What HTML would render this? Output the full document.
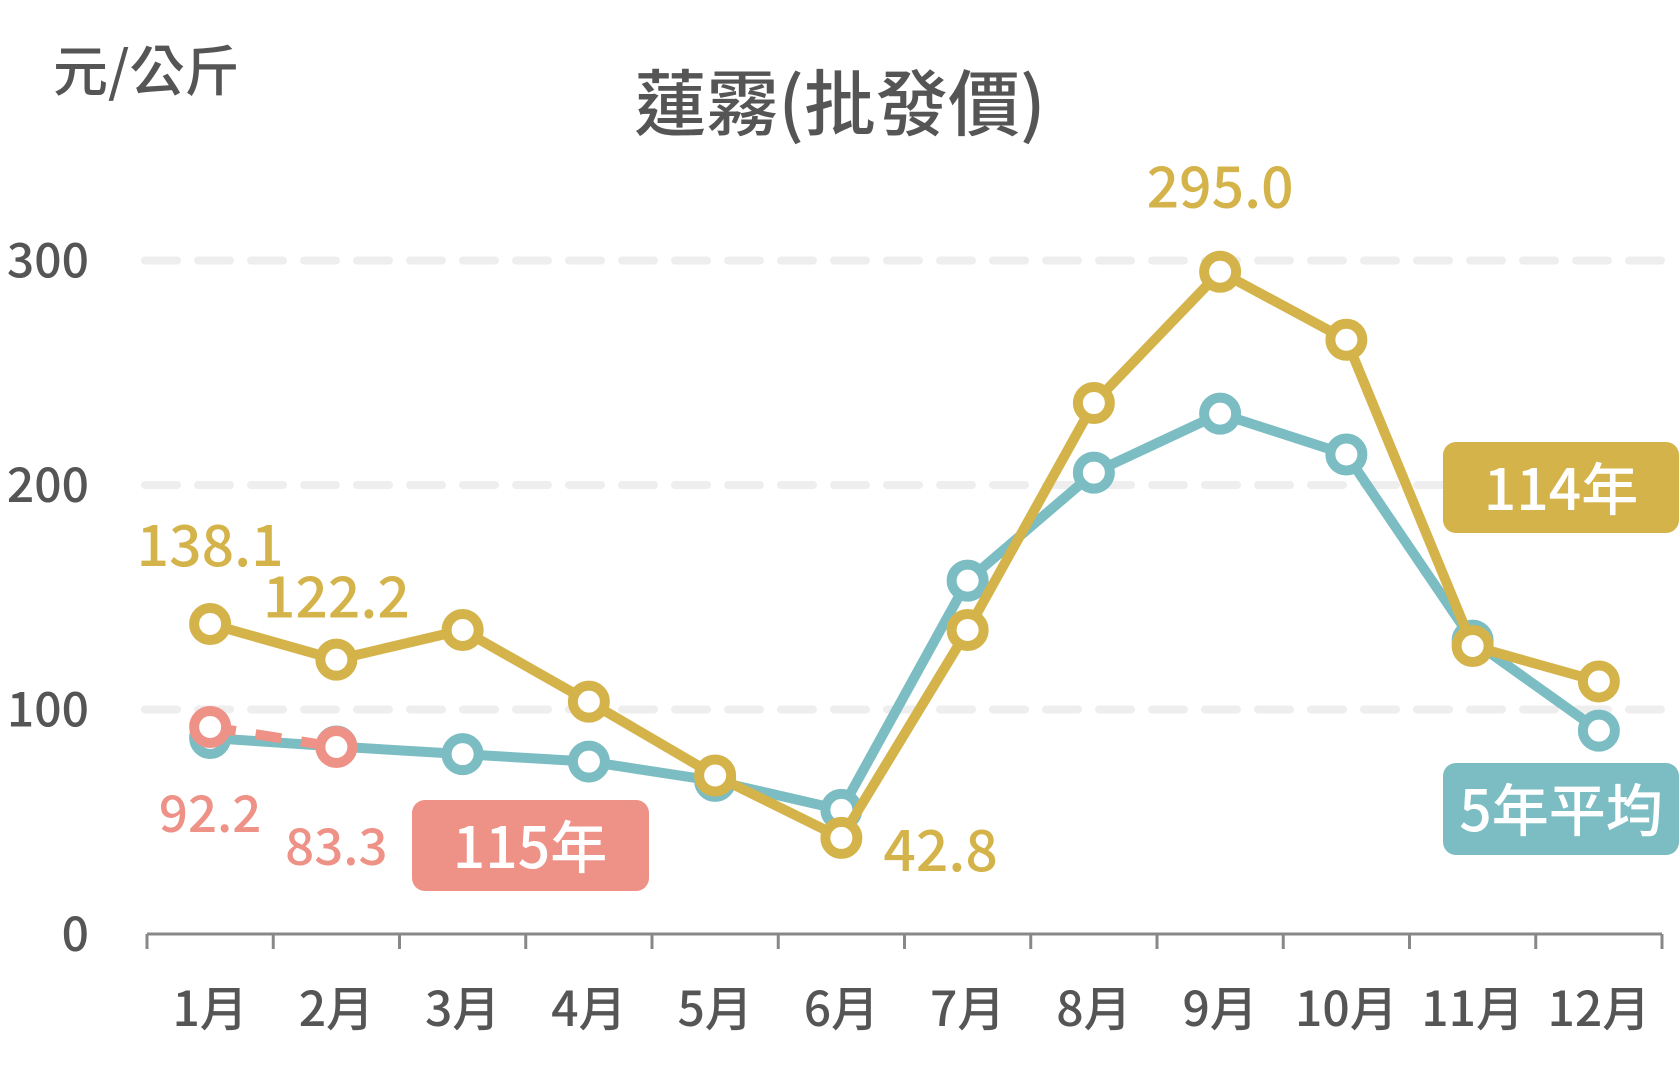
<!DOCTYPE html>
<html><head><meta charset="utf-8"><style>
body{margin:0;background:#fff}
svg text{font-family:"Noto Sans CJK TC","Liberation Sans",sans-serif;font-weight:500}
</style></head><body>
<svg id="chart" width="1679" height="1075" viewBox="0 0 1679 1075" xmlns="http://www.w3.org/2000/svg">
<text x="53" y="91" font-size="55" fill="#555">元/公斤</text>
<text x="840" y="130" font-size="72" font-weight="bold" fill="#555" text-anchor="middle">蓮霧(批發價)</text>
<g id="grid"></g><g id="axis"></g><g id="series"></g><g id="labels"></g>
<g><rect x="1443" y="442" width="236" height="91" rx="13" fill="#D4B44A"/><text x="1561" y="510" font-size="57" fill="#fff" text-anchor="middle">114年</text></g>
<g><rect x="1443" y="763" width="236" height="92" rx="13" fill="#7BBDC2"/><text x="1561" y="831" font-size="57" fill="#fff" text-anchor="middle">5年平均</text></g>
<g><rect x="412" y="800" width="237" height="91" rx="13" fill="#EE9186"/><text x="530" y="868" font-size="57" fill="#fff" text-anchor="middle">115年</text></g>
</svg>
<script>
const months=["1月","2月","3月","4月","5月","6月","7月","8月","9月","10月","11月","12月"];
const yTicks=[0,100,200,300];
const avg5=[87.3,83.5,80.1,76.8,68.2,55.3,157.4,205.5,231.8,213.6,130.7,90.6];
const y114=[138.1,122.2,135.4,103.5,70.6,42.8,135.4,236.5,295.0,264.7,128.3,112.5];
const y115=[92.2,83.3];
const labels114=[[0,"138.1"],[1,"122.2"],[8,"295.0"],[5,"42.8"]];
const labels115=[[0,"92.2"],[1,"83.3"]];
const NS="http://www.w3.org/2000/svg";
const x0=147,x1=1662,yBase=934,per=2.245;
const step=(x1-x0)/12;
const X=i=>x0+step*(i+0.5), Y=v=>yBase-v*per;
function mk(t,a,p){const e=document.createElementNS(NS,t);for(const k in a)e.setAttribute(k,a[k]);p.appendChild(e);return e;}
const grid=document.getElementById('grid'),axis=document.getElementById('axis'),ser=document.getElementById('series'),lab=document.getElementById('labels');
yTicks.forEach(v=>{
 if(v>0){const l=mk('line',{x1:145,x2:1665,y1:Y(v),y2:Y(v),stroke:'#eee','stroke-width':8,'stroke-dasharray':'32 21','stroke-linecap':'round'},grid);
 
 }
 const t=mk('text',{x:89,y:Y(v)+17,'font-size':48,fill:'#555','text-anchor':'end'},axis);t.textContent=v;
 
 
});
const ax=mk('line',{x1:x0,x2:x1,y1:yBase,y2:yBase,stroke:'#888','stroke-width':3},axis);


for(let i=0;i<=12;i++){const tk=mk('line',{x1:x0+step*i,x2:x0+step*i,y1:yBase,y2:yBase+15,stroke:'#888','stroke-width':3},axis);
 
 }
months.forEach((m,i)=>{const t=mk('text',{x:X(i),y:1026,'font-size':48,fill:'#555','text-anchor':'middle'},axis);t.textContent=m;
 
 });
function series(vals,color,name,dash){
 const g=mk('g',{},ser);
 
 
 const p=mk('polyline',{points:vals.map((v,i)=>X(i)+','+Y(v)).join(' '),fill:'none',stroke:color,'stroke-width':10,'stroke-linejoin':'round'},g);
 if(dash)p.setAttribute('stroke-dasharray',dash);
 vals.forEach((v,i)=>{const c=mk('circle',{cx:X(i),cy:Y(v),r:16,fill:'#fff',stroke:color,'stroke-width':10},g);
  
  });
}
series(avg5,'#7BBDC2','series-5yr-avg');
series(y114,'#D4B44A','series-114');
series(y115,'#EE9186','series-115','26 20');
labels114.forEach(([i,s])=>{let x=X(i),y=Y(y114[i])-40,anc='middle';
 if(i===0){y=Y(y114[i])-58;}
 if(i===1){y=Y(y114[i])-42;}
 if(i===5){x=X(i)+42;y=Y(y114[i])+33;anc='start';}
 if(i===8){y=Y(y114[i])-64;}
 const t=mk('text',{x:x,y:y,'font-size':57,fill:'#D4B44A','text-anchor':anc},lab);t.textContent=s;
 
 });
labels115.forEach(([i,s])=>{const t=mk('text',{x:X(i),y:Y(y115[i])+(i===0?105:118),'font-size':51,fill:'#EE9186','text-anchor':'middle'},lab);t.textContent=s;
 
 });
</script>
</body></html>
